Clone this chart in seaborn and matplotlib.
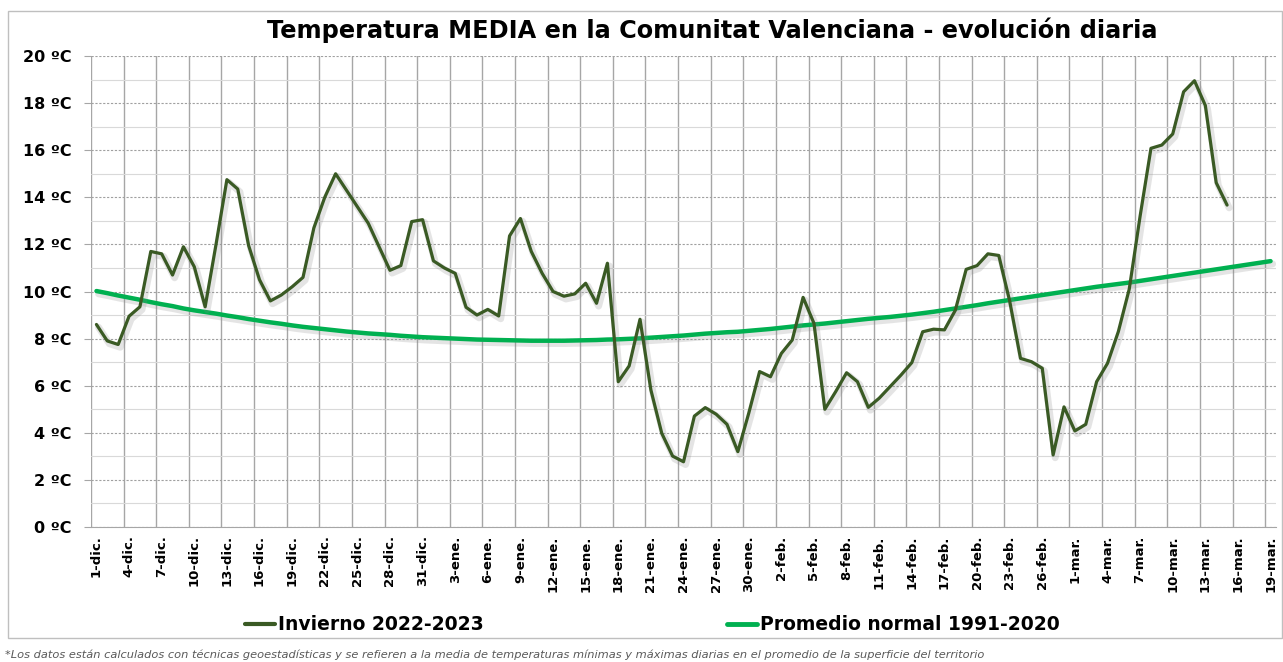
import matplotlib
matplotlib.use("Agg")
import matplotlib.pyplot as plt
import matplotlib.patheffects as pe
from matplotlib.lines import Line2D
from matplotlib.patches import Rectangle
from matplotlib.ticker import FixedLocator, MultipleLocator
import numpy as np
import pandas as pd
import seaborn as sns

# tick labels every 3 days, 1-dic to 19-mar
tick_labels = [
    "1-dic.", "4-dic.", "7-dic.", "10-dic.", "13-dic.", "16-dic.", "19-dic.", "22-dic.",
    "25-dic.", "28-dic.", "31-dic.", "3-ene.", "6-ene.", "9-ene.", "12-ene.", "15-ene.",
    "18-ene.", "21-ene.", "24-ene.", "27-ene.", "30-ene.", "2-feb.", "5-feb.", "8-feb.",
    "11-feb.", "14-feb.", "17-feb.", "20-feb.", "23-feb.", "26-feb.", "1-mar.", "4-mar.",
    "7-mar.", "10-mar.", "13-mar.", "16-mar.", "19-mar.",
]

# winter 2022-2023 daily mean temperature (1-dic to 15-mar)
invierno = [
    8.6, 7.9, 7.75, 8.95, 9.35, 11.7, 11.6, 10.7, 11.9, 11.05,
    9.35, 12.0, 14.75, 14.35, 11.95, 10.5, 9.6, 9.85, 10.2, 10.6,
    12.7, 14.0, 15.0, 14.3, 13.6, 12.9, 11.9, 10.9, 11.1, 12.97,
    13.05, 11.3, 11.0, 10.77, 9.33, 9.0, 9.24, 8.96, 12.36, 13.1,
    11.7, 10.77, 10.0, 9.8, 9.9, 10.35, 9.5, 11.2, 6.17, 6.84,
    8.82, 5.82, 3.98, 3.01, 2.77, 4.71, 5.07, 4.79, 4.36, 3.2,
    4.83, 6.6, 6.38, 7.37, 7.94, 9.75, 8.65, 5.0, 5.75, 6.55,
    6.17, 5.08, 5.47, 5.96, 6.45, 6.98, 8.29, 8.4, 8.37, 9.2,
    10.94, 11.1, 11.6, 11.53, 9.6, 7.16, 7.02, 6.74, 3.06, 5.1,
    4.08, 4.36, 6.17, 6.95, 8.3, 10.1, 13.2, 16.08, 16.22, 16.69,
    18.48, 18.95, 17.9, 14.62, 13.67,
]

# normal 1991-2020 (1-dic to 19-mar)
normal = [
    10.02, 9.93, 9.83, 9.74, 9.65, 9.55, 9.46, 9.38, 9.28, 9.2,
    9.13, 9.06, 8.98, 8.91, 8.83, 8.76, 8.69, 8.63, 8.56, 8.5,
    8.45, 8.4, 8.35, 8.3, 8.26, 8.22, 8.19, 8.16, 8.12, 8.09,
    8.06, 8.04, 8.02, 8.0, 7.98, 7.96, 7.95, 7.94, 7.93, 7.92,
    7.91, 7.91, 7.91, 7.91, 7.92, 7.93, 7.94, 7.96, 7.97, 7.99,
    8.01, 8.04, 8.07, 8.1, 8.13, 8.17, 8.21, 8.24, 8.27, 8.29,
    8.33, 8.37, 8.41, 8.46, 8.51, 8.56, 8.6, 8.64, 8.69, 8.74,
    8.79, 8.84, 8.88, 8.92, 8.97, 9.02, 9.08, 9.14, 9.21, 9.28,
    9.35, 9.42, 9.5, 9.57, 9.64, 9.71, 9.78, 9.85, 9.92, 9.99,
    10.06, 10.13, 10.2, 10.26, 10.32, 10.38, 10.45, 10.52, 10.59, 10.66,
    10.73, 10.8, 10.87, 10.94, 11.01, 11.08, 11.15, 11.22, 11.29,
]

color_inv = "#3a5a24"
color_norm = "#00b050"

df_inv = pd.DataFrame({"dia": np.arange(len(invierno)), "temp": invierno})
df_norm = pd.DataFrame({"dia": np.arange(len(normal)), "temp": normal})

sns.set_style("white")
plt.rcParams["font.family"] = ["DejaVu Sans"]
plt.rcParams["text.color"] = "black"
plt.rcParams["xtick.labelcolor"] = "black"
plt.rcParams["ytick.labelcolor"] = "black"

fig = plt.figure(figsize=(12.83, 6.62), dpi=100)
ax = fig.add_axes([91 / 1283, 1 - 527 / 662, (1276 - 91) / 1283, (527 - 56) / 662])

shadow = [pe.SimpleLineShadow(offset=(1.5, -2), shadow_color="#888888", alpha=0.22, linewidth=5),
          pe.Normal()]

sns.lineplot(data=df_norm, x="dia", y="temp", ax=ax, color=color_norm, linewidth=3.2,
             path_effects=shadow, zorder=3)
sns.lineplot(data=df_inv, x="dia", y="temp", ax=ax, color=color_inv, linewidth=2.3,
             path_effects=shadow, zorder=4)

n_days = len(normal)
ax.set_xlim(-0.5, n_days - 0.5)
ax.set_ylim(0, 20)

# category labels at every 3rd day, gridlines at category edges
ax.xaxis.set_major_locator(FixedLocator(np.arange(0, n_days, 3)))
ax.set_xticklabels(tick_labels, rotation=90, fontsize=9.5, fontweight="bold", color="black")
ax.xaxis.set_minor_locator(FixedLocator(np.arange(-0.5, n_days, 3)))
ax.tick_params(axis="x", which="major", length=0, pad=6)
ax.tick_params(axis="x", which="minor", length=5, color="#a6a6a6", width=1, direction="out")
ax.grid(axis="x", which="minor", color="#a6a6a6", linewidth=1, linestyle="-")

ax.yaxis.set_major_locator(MultipleLocator(2))
ax.yaxis.set_minor_locator(MultipleLocator(1))
ax.set_yticks(np.arange(0, 21, 2))
ax.set_yticklabels([f"{v} ºC" for v in range(0, 21, 2)], fontsize=11.5, fontweight="bold",
                   color="black")
ax.tick_params(axis="y", which="major", length=5, color="#a6a6a6", pad=9, left=True)
ax.tick_params(axis="y", which="minor", length=0)
ax.grid(axis="y", which="major", color="#a0a0a0", linewidth=0.8, linestyle=(0, (2, 1.5)))
ax.grid(axis="y", which="minor", color="#d9d9d9", linewidth=0.8, linestyle="-")
ax.set_axisbelow(True)

for s in ["top", "right", "left"]:
    ax.spines[s].set_visible(False)
ax.spines["bottom"].set_color("#a6a6a6")
ax.set_xlabel("")
ax.set_ylabel("")
ax.set_facecolor("none")

fig.text(712 / 1283, 1 - 30 / 662, "Temperatura MEDIA en la Comunitat Valenciana - evolución diaria",
         ha="center", va="center", fontsize=17.3, fontweight="bold", color="black")

# two legend entries, placed separately like the original
legend_items = [
    (Line2D([], [], color=color_inv, linewidth=3), "Invierno 2022-2023", 245),
    (Line2D([], [], color=color_norm, linewidth=3.5), "Promedio normal 1991-2020", 727),
]
for handle, label, x0 in legend_items:
    fig.legend([handle], [label], loc="center left",
               bbox_to_anchor=(x0 / 1283, 1 - 625 / 662), frameon=False,
               prop={"size": 13.5, "weight": "bold"}, handlelength=1.6, handletextpad=0.15,
               borderpad=0, borderaxespad=0, labelcolor="black")

fig.text(5 / 1283, 1 - 655 / 662,
         "*Los datos están calculados con técnicas geoestadísticas y se refieren a la media de "
         "temperaturas mínimas y máximas diarias en el promedio de la superficie del territorio",
         ha="left", va="center", fontsize=8.2, style="italic", color="#595959")

fig.patches.append(Rectangle((8 / 1283, 1 - 638 / 662), (1282 - 8) / 1283, (638 - 11) / 662,
                             transform=fig.transFigure, fill=False, edgecolor="#bfbfbf",
                             linewidth=1))

fig.savefig("out.png", dpi=100)
